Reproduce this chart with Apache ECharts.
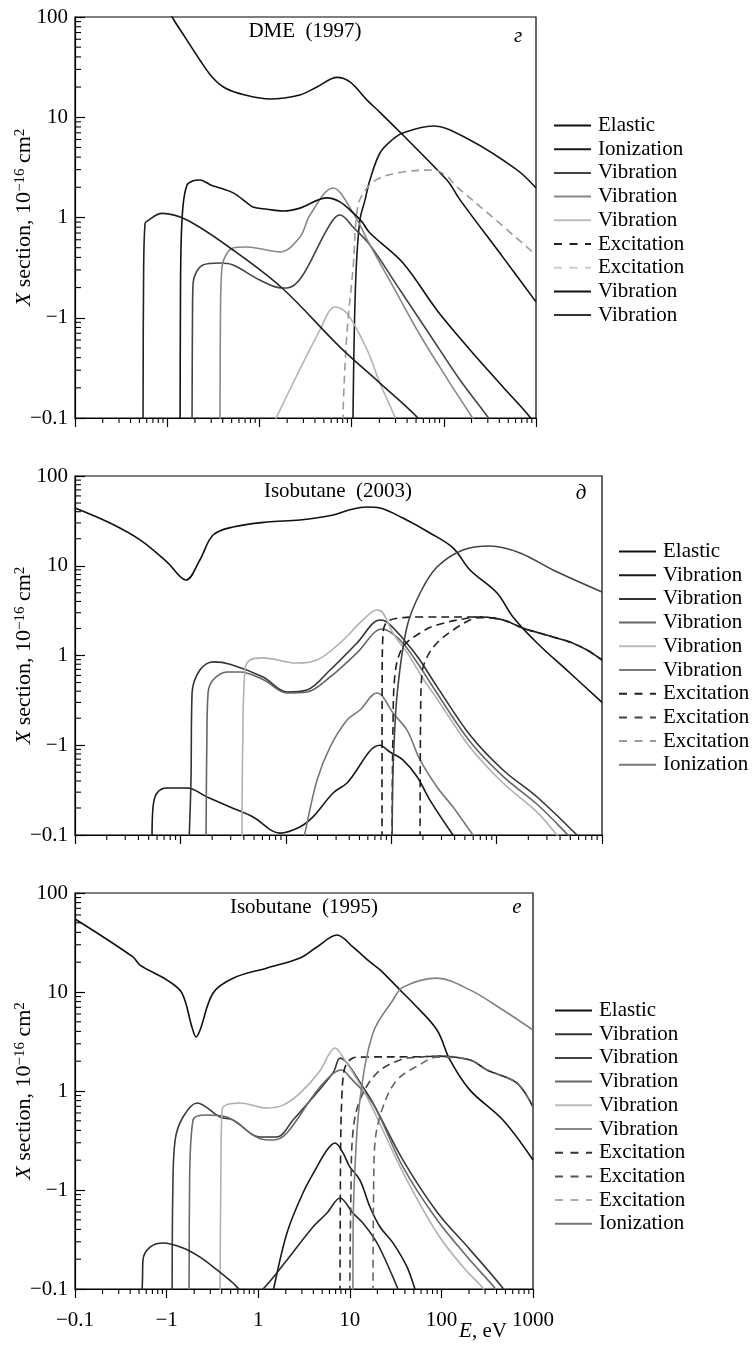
<!DOCTYPE html>
<html><head><meta charset="utf-8">
<script src="https://cdn.jsdelivr.net/npm/echarts@6/dist/echarts.min.js"></script>
<style>html,body{margin:0;padding:0;background:#fff}#c{width:753px;height:1349px}</style>
</head><body><div id="c"></div><script>
const FONT = '"Liberation Serif", "Times New Roman", serif';

// ---------- tick labels ----------
const xTickExponents = [-2, -1, 0, 1, 2, 3];
const xTickLabels = ['−0.1', '−1', '1', '10', '100', '1000'];
const yTickExponents = [-2, -1, 0, 1, 2];
const yTickLabels = ['−0.1', '−1', '1', '10', '100'];
const xMinorTicks = [0.02,0.03,0.04,0.05,0.06,0.07,0.08,0.09,0.2,0.3,0.4,0.5,0.6,0.7,0.8,0.9,2,3,4,5,6,7,8,9,20,30,40,50,60,70,80,90,200,300,400,500,600,700,800,900];
const yMinorTicks = [0.02,0.03,0.04,0.05,0.06,0.07,0.08,0.09,0.2,0.3,0.4,0.5,0.6,0.7,0.8,0.9,2,3,4,5,6,7,8,9,20,30,40,50,60,70,80,90];

// ---------- panel 1: DME (1997) ----------
const dmeElastic = [[0.1,130],[0.113,100],[0.156,63],[0.227,37],[0.314,24.6],[0.424,19.6],[0.698,16.7],[1.3,15.2],[2.75,16.7],[4.2,20],[6.95,25],[9.6,22.5],[14.7,14.8],[20.3,11.2],[36,6.65],[108,2.37],[123,2.01],[150,1.5],[439,0.40],[1000,0.144]];
const dmeIonization = [[10.3,0.009],[10.36,0.01],[10.6,0.048],[11.2,0.30],[12.3,0.94],[14.0,1.5],[15.8,2.37],[20.3,4.4],[27.4,5.93],[36,6.96],[76,8.18],[192,5.93],[622,2.98],[1000,1.97]];
const dmeVib1 = [[0.186,0.009],[0.188,0.1],[0.191,0.222],[0.244,0.336],[0.374,0.352],[0.518,0.336],[1.01,0.238],[1.76,0.198],[1.99,0.198],[6.28,0.944],[7.48,1.06],[10.4,0.80],[15.8,0.532],[33.5,0.189],[70.8,0.0673],[150,0.0239],[301,0.0102],[320,0.009]];
const dmeVib2 = [[0.374,0.009],[0.378,0.1],[0.393,0.321],[0.518,0.497],[0.735,0.508],[1.67,0.453],[2.75,0.638],[3.54,1.06],[6.28,1.97],[10.4,1.11],[15.8,0.532],[29.6,0.189],[55.2,0.0673],[111,0.0239],[202,0.0102],[215,0.009]];
const dmeVib3 = [[1.48,0.0095],[4.54,0.0755],[6.61,0.128],[8.91,0.111],[14.7,0.048],[20.3,0.0223],[29.6,0.0102],[31,0.009]];
const dmeExc1 = [];
const dmeExc2 = [[8.07,0.009],[8.1,0.012],[8.9,0.07],[10.4,0.32],[11.7,1.3],[14.7,1.97],[20.3,2.48],[36,2.84],[76,2.98],[108,2.59],[132,2.11],[317,1.06],[1000,0.423]];
const dmeVib4 = [[0.138,0.009],[0.139,0.1],[0.141,0.474],[0.148,1.27],[0.164,2.11],[0.19,2.32],[0.227,2.37],[0.3,2.1],[0.374,1.97],[0.52,1.76],[0.735,1.40],[0.85,1.27],[1.21,1.21],[1.8,1.16],[2.75,1.24],[5.41,1.57],[7.48,1.43],[10.4,1.11],[13,0.90],[15.8,0.70],[36.1,0.352],[84.3,0.119],[192,0.048],[438,0.0204],[861,0.0102],[1000,0.008]];
const dmeVib5 = [[0.0547,0.009],[0.0555,0.3],[0.0574,0.86],[0.0604,0.92],[0.088,1.1],[0.164,0.944],[0.518,0.474],[1.76,0.198],[7.48,0.051],[20.3,0.0223],[52.5,0.01],[60,0.008]];

// ---------- panel 2: Isobutane (2003) ----------
const iso03Elastic = [[0.01,44],[0.0215,29.9],[0.0414,19.4],[0.0747,11.0],[0.113,6.94],[0.153,11.6],[0.204,22],[0.315,27],[0.664,30.7],[1.36,32.4],[2.81,36.8],[4.06,42],[5.89,45.2],[7.83,44],[12.9,34],[23.3,23.2],[38.6,15.8],[55.9,8.97],[101,4.97],[143,2.69],[242,1.38],[497,0.638],[1000,0.3]];
const iso03Vib1 = [[0.0538,0.009],[0.055,0.0205],[0.06,0.0294],[0.0747,0.0334],[0.116,0.0334],[0.179,0.0265],[0.296,0.0205],[0.489,0.0159],[0.88,0.0105],[1.36,0.0123],[1.81,0.0159],[2.81,0.0294],[3.81,0.038],[7.83,0.1],[9.75,0.084],[12.9,0.0686],[17.6,0.0446],[23.3,0.0245],[38.6,0.01],[42,0.009]];
const iso03Vib2 = [[0.121,0.009],[0.126,0.041],[0.129,0.38],[0.153,0.689],[0.204,0.85],[0.296,0.8],[0.608,0.576],[1.03,0.392],[1.59,0.413],[2.63,0.689],[4.74,1.38],[7.83,2.49],[9.12,2.36],[12.9,1.55],[18,0.95],[27.2,0.45],[55.9,0.13],[115,0.053],[242,0.0265],[579,0.01],[620,0.009]];
const iso03Vib3 = [[0.175,0.009],[0.178,0.1],[0.183,0.382],[0.204,0.533],[0.277,0.655],[0.367,0.655],[0.608,0.54],[1.03,0.382],[1.59,0.392],[2.63,0.576],[4.74,1.07],[8.18,1.97],[9.75,1.83],[12.9,1.38],[18.8,0.745],[27.2,0.38],[55.9,0.11],[115,0.045],[242,0.022],[476,0.01],[510,0.009]];
const iso03Vib4 = [[0.384,0.009],[0.39,0.1],[0.41,0.689],[0.457,0.89],[0.608,0.94],[1.28,0.824],[1.98,0.89],[3.27,1.38],[5.40,2.49],[7.33,3.21],[8.36,2.98],[10.4,1.78],[15.1,0.96],[19.6,0.576],[27.2,0.33],[55.9,0.095],[115,0.038],[242,0.018],[374,0.01],[400,0.009]];
const iso03Vib5 = [[1.5,0.009],[1.52,0.0105],[1.98,0.041],[2.63,0.0955],[3.81,0.191],[5.06,0.247],[7.33,0.382],[8.36,0.345],[10.4,0.229],[14.1,0.148],[18.8,0.0686],[27.2,0.0343],[38.6,0.0205],[59.7,0.01],[64,0.009]];
const iso03Exc1 = [[8.18,0.009],[8.2,0.5],[8.36,1.78],[9.12,2.36],[12.1,2.62],[20,2.69],[55.9,2.69],[69.6,2.69],[115,2.49],[178,2.02],[343,1.61],[497,1.41],[721,1.15],[1000,0.89]];
const iso03Exc2 = [[10.2,0.009],[10.4,0.16],[10.9,0.638],[12.9,1.24],[18.8,1.78],[27.2,2.19],[55.9,2.64],[69.6,2.69],[115,2.49],[178,2.02],[343,1.61],[497,1.41],[721,1.15],[1000,0.89]];
const iso03Exc3 = [[18.8,0.009],[19.0,0.2],[19.6,0.638],[21.9,0.962],[27.2,1.38],[38.6,1.92],[55.9,2.49],[69.6,2.64],[115,2.49],[178,2.02],[343,1.61],[497,1.41],[721,1.15],[1000,0.89]];
const iso03Ionization = [[10.2,0.009],[10.3,0.03],[10.5,0.07],[11.4,0.38],[14.1,2.08],[18.8,4.97],[27.2,9.68],[48,15],[86.5,16.6],[167,13.9],[343,8.97],[1000,5.1]];

// ---------- panel 3: Isobutane (1995) ----------
const iso95Elastic = [[0.01,54.6],[0.0429,22.6],[0.0513,18.7],[0.101,13.2],[0.147,9.77],[0.189,4.43],[0.21,3.51],[0.232,4.13],[0.322,9.77],[0.531,13.8],[1.25,17.5],[2.86,22],[4.38,28.5],[7.25,37.7],[10.8,28.5],[16.6,20.1],[21.4,16.7],[38.1,9.77],[49,7.74],[89.5,4.13],[124,2.06],[205,1.02],[470,0.509],[1000,0.201]];
const iso95Vib1 = [[1.45,0.009],[1.47,0.01],[2.06,0.0368],[3.08,0.0933],[4.38,0.171],[5.64,0.254],[6.89,0.298],[8.43,0.237],[10,0.171],[12.9,0.126],[16.6,0.0673],[21.4,0.0423],[29.6,0.0292],[42.1,0.0167],[51.5,0.01],[54,0.009]];
const iso95Vib2 = [[0.115,0.009],[0.117,0.1],[0.124,0.32],[0.151,0.546],[0.215,0.757],[0.383,0.546],[0.531,0.509],[1.05,0.343],[1.6,0.343],[2.4,0.509],[6.55,1.52],[7.82,2.15],[9.32,1.92],[13.9,1.10],[17.9,0.757],[38.1,0.2],[89.5,0.06],[205,0.025],[470,0.0102],[500,0.009]];
const iso95Vib3 = [[0.176,0.009],[0.178,0.1],[0.194,0.509],[0.276,0.573],[0.456,0.546],[1.05,0.33],[1.45,0.32],[2.06,0.377],[4.73,1.10],[8.2,1.63],[10,1.38],[17.9,0.74],[38.1,0.17],[89.5,0.05],[205,0.0196],[385,0.0102],[410,0.009]];
const iso95Vib4 = [[0.383,0.009],[0.39,0.1],[0.403,0.643],[0.632,0.757],[1.25,0.673],[1.87,0.72],[2.86,0.95],[4.73,1.6],[6.0,2.4],[6.89,2.72],[8.43,2.2],[15.4,0.869],[38.1,0.15],[89.5,0.0368],[172,0.0167],[285,0.0102],[300,0.009]];
const iso95Vib5 = [[0.0538,0.009],[0.0545,0.012],[0.0552,0.0196],[0.0659,0.0265],[0.0914,0.0292],[0.151,0.026],[0.232,0.021],[0.355,0.0156],[0.531,0.0115],[0.601,0.0102],[0.8,0.008],[1.13,0.01],[2.06,0.0196],[3.96,0.0423],[5.64,0.0586],[7.82,0.083],[10.8,0.0586],[13.9,0.0464],[19.8,0.0292],[29.6,0.0132],[33.6,0.01],[36,0.009]];
const iso95Exc1 = [[7.82,0.009],[7.95,0.3],[8.2,0.9],[8.6,1.55],[9.32,1.92],[10.8,2.15],[12.9,2.2],[58.4,2.22],[89.5,2.25],[205,2.06],[315,1.63],[668,1.2],[1000,0.69]];
const iso95Exc2 = [[10,0.009],[10.3,0.1],[10.8,0.377],[12.9,0.81],[19.8,1.52],[35.3,2.06],[58.4,2.2],[89.5,2.25],[205,2.06],[315,1.63],[668,1.2],[1000,0.69]];
const iso95Exc3 = [[17.9,0.009],[18.2,0.1],[18.8,0.298],[23,0.689],[32.7,1.29],[58.4,1.85],[89.5,2.2],[205,2.06],[315,1.63],[668,1.2],[1000,0.69]];
const iso95Ionization = [[10.7,0.009],[10.8,0.01],[10.9,0.05],[11.4,0.171],[12.9,0.81],[17.9,3.85],[29.6,8.3],[38.1,11.2],[89.5,13.8],[205,10.5],[470,6.58],[1000,4.13]];

// ---------- series names per panel (legend order) ----------
const p1Names = ['Elastic','Ionization','Vibration','Vibration','Vibration','Excitation','Excitation','Vibration','Vibration'];
const p2Names = ['Elastic','Vibration','Vibration','Vibration','Vibration','Vibration','Excitation','Excitation','Excitation','Ionization'];
const p3Names = ['Elastic','Vibration','Vibration','Vibration','Vibration','Vibration','Excitation','Excitation','Excitation','Ionization'];
const p1Data = [dmeElastic, dmeIonization, dmeVib1, dmeVib2, dmeVib3, dmeExc1, dmeExc2, dmeVib4, dmeVib5];
const p2Data = [iso03Elastic, iso03Vib1, iso03Vib2, iso03Vib3, iso03Vib4, iso03Vib5, iso03Exc1, iso03Exc2, iso03Exc3, iso03Ionization];
const p3Data = [iso95Elastic, iso95Vib1, iso95Vib2, iso95Vib3, iso95Vib4, iso95Vib5, iso95Exc1, iso95Exc2, iso95Exc3, iso95Ionization];

// ---------- styles ----------
const p1Colors = ['#111','#1a1a1a','#444','#888','#b5b5b5','#222','#9a9a9a','#111','#222'];
const p1Legend = ['#111','#1a1a1a','#444','#888','#bdbdbd','#222','#cccccc','#111','#333'];
const p1Dash   = [0,0,0,0,0,1,1,0,0];
const p2Colors = ['#111','#1a1a1a','#333','#666','#b0b0b0','#777','#1a1a1a','#222','#222','#444'];
const p2Legend = ['#111','#1a1a1a','#333','#666','#bdbdbd','#777','#222','#444','#999','#777'];
const p2Dash   = [0,0,0,0,0,0,1,1,1,0];
const p3Colors = ['#111','#1a1a1a','#3a3a3a','#6a6a6a','#b0b0b0','#2a2a2a','#222','#444','#666','#808080'];
const p3Legend = ['#111','#333','#444','#666','#bdbdbd','#888','#333','#555','#aaa','#777'];
const p3Dash   = [0,0,0,0,0,0,1,1,1,0];
const solidIcon = 'path://M0,0H37V2H0Z';
const dashIcon = 'path://M0,0H8V2H0Z M15.5,0H23.5V2H15.5Z M31,0H37V2H31Z';

const grids = [
  {left: 75, top: 17, width: 461, height: 401},
  {left: 75, top: 476, width: 527, height: 359},
  {left: 75, top: 893, width: 458, height: 396}
];
const legendPos = [{left: 554, top: 115}, {left: 619, top: 541}, {left: 555, top: 1000}];
const titles = [
  {text: 'DME  (1997)', x: 305, y: 31, letter: 'г', lx: 518, ly: 36},
  {text: 'Isobutane  (2003)', x: 338, y: 491, letter: 'д', lx: 581, ly: 493},
  {text: 'Isobutane  (1995)', x: 304, y: 907, letter: 'е', lx: 517, ly: 907}
];

const panels = [
  {names: p1Names, data: p1Data, colors: p1Colors, legend: p1Legend, dash: p1Dash},
  {names: p2Names, data: p2Data, colors: p2Colors, legend: p2Legend, dash: p2Dash},
  {names: p3Names, data: p3Data, colors: p3Colors, legend: p3Legend, dash: p3Dash}
];

function labelFor(v, exps, labels) {
  const e = Math.round(Math.log10(v));
  const i = exps.indexOf(e);
  return i >= 0 ? labels[i] : '';
}

const series = [], legends = [], xAxes = [], yAxes = [];
const displayName = {};
panels.forEach((p, gi) => {
  const ids = [];
  p.names.forEach((nm, si) => {
    const id = 'p' + gi + '_' + si;
    displayName[id] = nm;
    ids.push({name: id, icon: p.dash[si] ? dashIcon : solidIcon,
      itemStyle: {color: p.legend[si], borderWidth: 0}});
    series.push({
      name: id, type: 'line', xAxisIndex: gi, yAxisIndex: gi,
      data: p.data[si], showSymbol: false, symbol: 'none',
      smooth: 0.35, clip: true,
      color: p.colors[si],
      lineStyle: {color: p.colors[si], width: 1.6, type: p.dash[si] ? [8, 5] : 'solid'},
      emphasis: {disabled: true}, animation: false
    });
  });
  legends.push({
    orient: 'vertical', left: legendPos[gi].left, top: legendPos[gi].top, padding: 0,
    itemWidth: 37, itemHeight: 2, itemGap: 2.7, selectedMode: false,
    textStyle: {fontFamily: FONT, fontSize: 21, color: '#000', lineHeight: 21, padding: [0, 0, 0, 2]},
    data: ids,
    formatter: (n) => displayName[n]
  });
  xAxes.push({
    type: 'log', logBase: 10, gridIndex: gi, min: 0.01, max: 1000,
    axisLine: {show: true, lineStyle: {color: '#000', width: 1.2}},
    axisTick: {show: true, inside: false, length: 9, lineStyle: {color: '#000', width: 1.2}},
    axisLabel: {show: gi === 2, margin: 21, fontFamily: FONT, fontSize: 21, color: '#000',
      formatter: (v) => labelFor(v, xTickExponents, xTickLabels)},
    splitLine: {show: false}, minorTick: {show: false}
  });
  yAxes.push({
    type: 'log', logBase: 10, gridIndex: gi, min: 0.01, max: 100,
    axisLine: {show: true, lineStyle: {color: '#000', width: 1.2}},
    axisTick: {show: true, inside: true, length: 10, lineStyle: {color: '#000', width: 1.2}},
    axisLabel: {margin: 7, fontFamily: FONT, fontSize: 21, color: '#000',
      formatter: (v) => labelFor(v, yTickExponents, yTickLabels)},
    splitLine: {show: false},
    name: '{i|X} section, 10{s|−16} cm{s|2}',
    nameLocation: 'middle', nameGap: 40, nameRotate: 90, nameMoveOverlap: false,
    nameTextStyle: {fontFamily: FONT, fontSize: 22, color: '#000',
      rich: {
        i: {fontFamily: FONT, fontSize: 22, fontStyle: 'italic', color: '#000'},
        s: {fontFamily: FONT, fontSize: 15, color: '#000', verticalAlign: 'top'}
      }}
  });
  // minor ticks (log-distributed) drawn through the axes' own scales
  series.push({
    type: 'custom', xAxisIndex: gi, yAxisIndex: gi, silent: true, clip: false, z: 5,
    data: xMinorTicks.map(v => [v, 0.01]), encode: {x: 0, y: 1},
    renderItem: (params, api) => {
      const pt = api.coord([api.value(0), api.value(1)]);
      return {type: 'line', shape: {x1: pt[0], y1: pt[1], x2: pt[0], y2: pt[1] + 5},
        style: {stroke: '#000', lineWidth: 1.1}};
    }, animation: false
  });
  series.push({
    type: 'custom', xAxisIndex: gi, yAxisIndex: gi, silent: true, clip: false, z: 5,
    data: yMinorTicks.map(v => [0.01, v]), encode: {x: 0, y: 1},
    renderItem: (params, api) => {
      const pt = api.coord([api.value(0), api.value(1)]);
      return {type: 'line', shape: {x1: pt[0], y1: pt[1], x2: pt[0] + 6, y2: pt[1]},
        style: {stroke: '#000', lineWidth: 1.1}};
    }, animation: false
  });
});

const graphics = [];
titles.forEach(t => {
  graphics.push({type: 'text', x: t.x, y: t.y, silent: true,
    style: {text: t.text, fontFamily: FONT, fontSize: 21, fill: '#000', align: 'center', verticalAlign: 'middle'}});
  graphics.push({type: 'text', x: t.lx, y: t.ly, silent: true,
    style: {text: t.letter, fontFamily: FONT, fontSize: 21, fontStyle: 'italic', fill: '#000', align: 'center', verticalAlign: 'middle'}});
});
graphics.push({type: 'text', x: 483, y: 1331, silent: true,
  style: {text: '{i|E}, eV', fontFamily: FONT, fontSize: 21, fill: '#000', align: 'center', verticalAlign: 'middle',
    rich: {i: {fontFamily: FONT, fontSize: 21, fontStyle: 'italic', fill: '#000'}}}});

const chart = echarts.init(document.getElementById('c'), null, {renderer: 'canvas'});
chart.setOption({
  backgroundColor: '#fff',
  animation: false,
  grid: grids.map(g => Object.assign({show: true, borderColor: '#000', borderWidth: 1.2, backgroundColor: 'transparent', containLabel: false, outerBoundsMode: 'none'}, g)),
  xAxis: xAxes,
  yAxis: yAxes,
  legend: legends,
  series: series,
  graphic: graphics
});
</script></body></html>
